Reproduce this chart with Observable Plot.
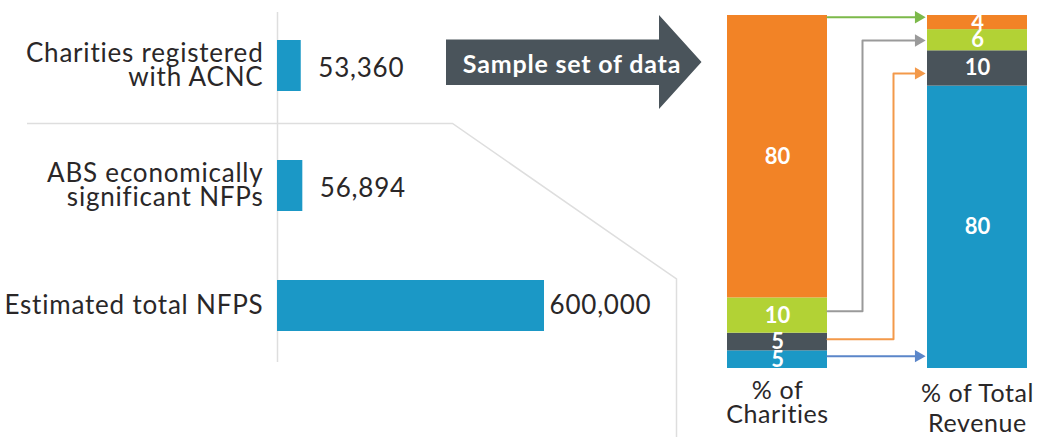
<!DOCTYPE html>
<html><head><meta charset="utf-8">
<script src="https://cdn.jsdelivr.net/npm/d3@7"></script>
<script src="https://cdn.jsdelivr.net/npm/@observablehq/plot@0.6"></script>
<style>
html,body{margin:0;padding:0;background:#fff;}
#chart{position:relative;width:1052px;height:437px;overflow:hidden;font-family:Lato,sans-serif;}
#chart > svg{position:absolute;top:0;}
#chart svg.leftplot text{letter-spacing:0.8px;}
#chart svg.rightplot g.catlabel text{letter-spacing:0.6px;}
</style></head><body><div id="chart"></div>
<script>
// ---- Left chart data ----
const categories = ["Charities registered\nwith ACNC", "ABS economically\nsignificant NFPs", "Estimated total NFPS"];
const counts = [53360, 56894, 600000];

// ---- Right chart data (segments listed bottom to top) ----
const groups = ["% of\nCharities", "% of Total\nRevenue"];
const segmentKeys = ["Large", "Medium", "Small", "Very small"];
const charitiesShare = [5, 5, 10, 80];
const revenueShare = [80, 10, 6, 4];
const segmentColors = ["#1b98c6", "#49535a", "#b2d235", "#f28326"];

// ---- Connector arrows (values in % units) ----
const connectorColors = ["#7cb94a", "#9a9a9a", "#f3994a", "#5b86c9"];
const connectorFrom = [99.5, 16.2, 8.3, 3.5];
const connectorTo = [99.5, 92.9, 83.6, 3.5];
const connectorElbow = [null, 1.35, 1.66, null];

const arrowLabel = "Sample set of data";

const chart = document.getElementById("chart");
const fmt = d3.format(",");
const textColor = "#2a2728";

// Decorative background: separator + banner arrow
const ns = "http://www.w3.org/2000/svg";
const deco = document.createElementNS(ns, "svg");
deco.setAttribute("width", 1052); deco.setAttribute("height", 437);
deco.style.left = "0px";
deco.innerHTML = `
  <polyline points="27,123.5 452.5,123.5 676.5,279 676.5,437" fill="none" stroke="#dedede" stroke-width="1.5"/>
  <polygon points="446,39.5 659,39.5 659,15 701.5,62 659,109 659,85 446,85" fill="#4a545b"/>
  <text x="572" y="63" text-anchor="middle" dominant-baseline="central" fill="#fff" font-family="Lato, sans-serif" font-weight="bold" font-size="25" letter-spacing="0.8">${arrowLabel}</text>`;
chart.appendChild(deco);

// Left bar chart
const leftData = categories.map((c, i) => ({cat: c, value: counts[i]}));
const left = Plot.plot({
  width: 720, height: 437,
  marginLeft: 277, marginRight: 176, marginTop: 12, marginBottom: 75,
  style: {background: "transparent", fontFamily: "Lato, sans-serif", color: textColor, overflow: "visible"},
  x: {domain: [0, 600000], axis: null},
  y: {domain: categories, range: [39, 332], paddingInner: 0.5785, paddingOuter: 0, axis: null},
  marks: [
    Plot.ruleX([0], {stroke: "#dedede", strokeWidth: 1.5}),
    Plot.barX(leftData, {x: "value", y: "cat", fill: "#1b98c6"}),
    Plot.axisY({tickSize: 0, tickPadding: 14, fontSize: 26, lineHeight: 0.96, label: null}),
    Plot.text(leftData.filter(d => d.value < 100000), {x: "value", y: "cat", text: d => fmt(d.value), textAnchor: "start", dx: 17, dy: 3, fontSize: 26, fill: textColor}),
    Plot.text(leftData.filter(d => d.value >= 100000), {x: "value", y: "cat", text: d => fmt(d.value), textAnchor: "start", dx: 5, fontSize: 26, fill: textColor})
  ]
});
left.classList.add("leftplot");
left.style.left = "0px";
chart.appendChild(left);

// Right stacked bars
const stacked = [];
[charitiesShare, revenueShare].forEach((arr, g) => {
  let acc = 0;
  arr.forEach((v, i) => {
    stacked.push({group: groups[g], x1: g * 2, x2: g * 2 + 1, y1: acc, y2: acc + v, value: v, color: segmentColors[i], key: segmentKeys[i]});
    acc += v;
  });
});
const linePts = [];
const heads = [];
connectorColors.forEach((c, i) => {
  linePts.push({id: i, x: 1, y: connectorFrom[i], c});
  if (connectorElbow[i] != null) {
    linePts.push({id: i, x: connectorElbow[i], y: connectorFrom[i], c});
    linePts.push({id: i, x: connectorElbow[i], y: connectorTo[i], c});
  }
  linePts.push({id: i, x: 1.9, y: connectorTo[i], c});
  heads.push({x: 2, y: connectorTo[i], c});
});
const labelData = groups.map((g, i) => ({x: i * 2 + 0.5, text: g}));

const right = Plot.plot({
  width: 352, height: 437,
  marginLeft: 27, marginRight: 25, marginTop: 15, marginBottom: 69,
  style: {background: "transparent", fontFamily: "Lato, sans-serif", color: textColor, overflow: "visible"},
  x: {domain: [0, 3], axis: null},
  y: {domain: [0, 100], axis: null},
  color: {type: "identity"},
  marks: [
    Plot.rectY(stacked, {x1: "x1", x2: "x2", y1: "y1", y2: "y2", fill: "color"}),
    Plot.text(stacked, {x: d => d.x1 + 0.5, y: d => (d.y1 + d.y2) / 2, text: d => String(d.value), fill: "white", fontWeight: "bold", fontSize: 22}),
    Plot.line(linePts, {x: "x", y: "y", z: "id", stroke: "c", strokeWidth: 2, curve: "linear"}),
    Plot.dot(heads, {x: "x", y: "y", fill: "c", symbol: "triangle", rotate: 90, r: 4.6, dx: -9, stroke: null}),
    Plot.text(labelData.slice(0, 1), {x: "x", text: "text", frameAnchor: "bottom", lineAnchor: "top", dy: 14, fontSize: 25, lineHeight: 0.94, fill: textColor, className: "catlabel"}),
    Plot.text(labelData.slice(1), {x: "x", text: "text", frameAnchor: "bottom", lineAnchor: "top", dy: 13, fontSize: 25, lineHeight: 1.18, fill: textColor, className: "catlabel"})
  ]
});
right.classList.add("rightplot");
right.style.left = "700px";
chart.appendChild(right);
</script></body></html>
